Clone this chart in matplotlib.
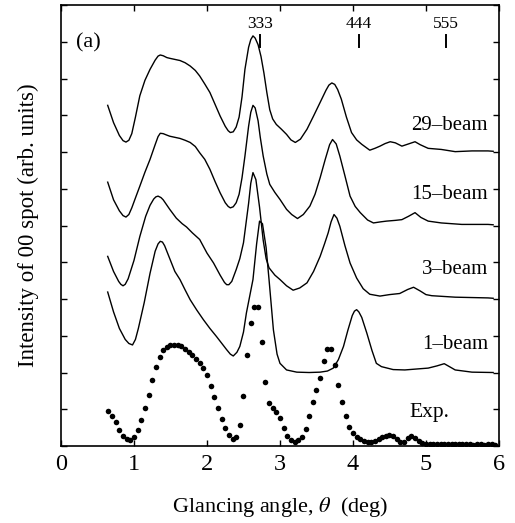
import matplotlib
matplotlib.use("Agg")
import matplotlib.pyplot as plt

plt.rcParams['font.family'] = ['Liberation Serif', 'DejaVu Serif']
plt.rcParams['mathtext.fontset'] = 'stix'

# experimental rocking curve (dots)
exp_theta = [0.65, 0.70, 0.75, 0.80, 0.85, 0.90, 0.95, 1.00, 1.05, 1.10,
             1.15, 1.20, 1.25, 1.30, 1.35, 1.40, 1.45, 1.50, 1.55, 1.60,
             1.65, 1.70, 1.75, 1.80, 1.85, 1.90, 1.95, 2.00, 2.05, 2.10,
             2.15, 2.20, 2.25, 2.30, 2.35, 2.40, 2.45, 2.50, 2.55, 2.60,
             2.65, 2.70, 2.75, 2.80, 2.85, 2.90, 2.95, 3.00, 3.05, 3.10,
             3.15, 3.20, 3.25, 3.30, 3.35, 3.40, 3.45, 3.50, 3.55, 3.60,
             3.65, 3.70, 3.75, 3.80, 3.85, 3.90, 3.95, 4.00, 4.05, 4.10,
             4.15, 4.20, 4.25, 4.30, 4.35, 4.40, 4.45, 4.50, 4.55, 4.60,
             4.65, 4.70, 4.75, 4.80, 4.85, 4.90, 4.95, 5.00, 5.05, 5.10,
             5.15, 5.20, 5.25, 5.30, 5.35, 5.40, 5.45, 5.50, 5.55, 5.60,
             5.65, 5.70, 5.75, 5.80, 5.85, 5.90, 5.95]
exp_int = [0.94, 0.82, 0.64, 0.44, 0.28, 0.19, 0.16, 0.25, 0.44, 0.71,
           1.03, 1.39, 1.80, 2.14, 2.41, 2.62, 2.69, 2.75, 2.76, 2.75,
           2.71, 2.65, 2.57, 2.48, 2.37, 2.27, 2.12, 1.92, 1.64, 1.33,
           1.03, 0.73, 0.48, 0.29, 0.18, 0.24, 0.57, 1.36, 2.48, 3.35,
           3.78, 3.77, 2.83, 1.74, 1.16, 1.03, 0.93, 0.76, 0.49, 0.28,
           0.16, 0.11, 0.16, 0.25, 0.46, 0.82, 1.21, 1.53, 1.86, 2.30,
           2.64, 2.64, 2.21, 1.66, 1.21, 0.82, 0.53, 0.36, 0.25, 0.18,
           0.13, 0.11, 0.12, 0.15, 0.20, 0.25, 0.28, 0.29, 0.27, 0.20,
           0.12, 0.10, 0.22, 0.27, 0.22, 0.14, 0.08, 0.06, 0.06, 0.05,
           0.05, 0.06, 0.05, 0.05, 0.05, 0.06, 0.05, 0.05, 0.05, 0.05,
           0.04, 0.05, 0.05, 0.04, 0.05, 0.05, 0.04]

# calculated curves (offset vertically as in the figure)
b29_theta = [0.64, 0.72, 0.80, 0.85, 0.89, 0.93, 0.97, 1.02, 1.08, 1.15,
             1.22, 1.29, 1.33, 1.36, 1.40, 1.45, 1.49, 1.56, 1.63, 1.70,
             1.77, 1.84, 1.90, 1.97, 2.04, 2.11, 2.18, 2.25, 2.29, 2.32,
             2.36, 2.40, 2.44, 2.48, 2.52, 2.57, 2.60, 2.63, 2.66, 2.70,
             2.74, 2.78, 2.82, 2.86, 2.90, 2.95, 3.02, 3.09, 3.15, 3.21,
             3.28, 3.37, 3.46, 3.55, 3.63, 3.67, 3.71, 3.75, 3.79, 3.84,
             3.91, 3.98, 4.05, 4.12, 4.23, 4.30, 4.37, 4.44, 4.51, 4.58,
             4.67, 4.76, 4.85, 4.92, 5.03, 5.21, 5.40, 5.63, 5.85, 5.92]
b29_int = [9.27, 8.80, 8.45, 8.31, 8.27, 8.32, 8.50, 8.95, 9.53, 9.95,
           10.25, 10.50, 10.61, 10.64, 10.62, 10.57, 10.55, 10.52, 10.49, 10.43,
           10.34, 10.22, 10.07, 9.85, 9.62, 9.30, 8.98, 8.70, 8.58, 8.53,
           8.55, 8.68, 8.95, 9.50, 10.25, 10.85, 11.06, 11.16, 11.10, 10.92,
           10.60, 10.15, 9.62, 9.15, 8.90, 8.75, 8.62, 8.48, 8.33, 8.26,
           8.35, 8.62, 8.98, 9.35, 9.68, 9.82, 9.88, 9.84, 9.70, 9.44,
           8.95, 8.53, 8.33, 8.21, 8.05, 8.10, 8.16, 8.23, 8.28, 8.25,
           8.16, 8.22, 8.28, 8.20, 8.10, 8.07, 8.01, 8.03, 8.03, 8.02]

b15_theta = [0.64, 0.72, 0.80, 0.85, 0.89, 0.93, 0.97, 1.02, 1.08, 1.15,
             1.22, 1.29, 1.33, 1.36, 1.40, 1.45, 1.49, 1.56, 1.63, 1.70,
             1.77, 1.84, 1.90, 1.97, 2.04, 2.11, 2.18, 2.25, 2.29, 2.32,
             2.36, 2.40, 2.44, 2.48, 2.52, 2.57, 2.60, 2.63, 2.66, 2.70,
             2.73, 2.77, 2.82, 2.86, 2.93, 3.00, 3.09, 3.16, 3.24, 3.32,
             3.41, 3.48, 3.55, 3.62, 3.68, 3.72, 3.77, 3.82, 3.89, 3.96,
             4.03, 4.10, 4.20, 4.28, 4.38, 4.46, 4.58, 4.67, 4.76, 4.85,
             4.93, 5.03, 5.21, 5.49, 5.85, 5.92]
b15_int = [7.18, 6.70, 6.40, 6.27, 6.23, 6.30, 6.48, 6.75, 7.07, 7.45,
           7.80, 8.20, 8.42, 8.51, 8.50, 8.46, 8.43, 8.40, 8.37, 8.32,
           8.26, 8.15, 7.98, 7.80, 7.53, 7.20, 6.89, 6.62, 6.52, 6.48,
           6.51, 6.62, 6.85, 7.30, 7.89, 8.70, 9.08, 9.27, 9.20, 8.85,
           8.40, 7.89, 7.40, 7.12, 6.90, 6.71, 6.44, 6.30, 6.19, 6.30,
           6.53, 6.85, 7.30, 7.80, 8.20, 8.34, 8.22, 7.89, 7.35, 6.80,
           6.52, 6.35, 6.15, 6.07, 6.10, 6.12, 6.14, 6.16, 6.25, 6.35,
           6.22, 6.12, 6.07, 6.03, 6.03, 6.02]

b3_theta = [0.64, 0.72, 0.79, 0.82, 0.85, 0.88, 0.92, 1.00, 1.08, 1.16,
            1.22, 1.27, 1.30, 1.33, 1.37, 1.40, 1.49, 1.58, 1.66, 1.72,
            1.80, 1.90, 2.00, 2.09, 2.18, 2.24, 2.27, 2.30, 2.34, 2.40,
            2.45, 2.50, 2.57, 2.60, 2.63, 2.67, 2.72, 2.77, 2.81, 2.85,
            2.93, 3.00, 3.09, 3.18, 3.27, 3.37, 3.46, 3.55, 3.61, 3.66,
            3.70, 3.74, 3.78, 3.82, 3.89, 3.96, 4.05, 4.14, 4.23, 4.37,
            4.50, 4.64, 4.75, 4.83, 4.92, 5.00, 5.08, 5.40, 5.85, 5.92]
b3_int = [5.16, 4.75, 4.48, 4.40, 4.36, 4.40, 4.55, 5.05, 5.70, 6.25,
          6.55, 6.72, 6.78, 6.80, 6.76, 6.70, 6.44, 6.20, 6.05, 5.96,
          5.80, 5.62, 5.25, 4.98, 4.65, 4.45, 4.39, 4.39, 4.48, 4.80,
          5.10, 5.53, 6.60, 7.15, 7.44, 7.25, 6.50, 5.60, 5.10, 4.85,
          4.65, 4.53, 4.36, 4.24, 4.30, 4.44, 4.75, 5.16, 5.50, 5.80,
          6.10, 6.30, 6.20, 5.98, 5.45, 4.98, 4.57, 4.28, 4.13, 4.08,
          4.12, 4.15, 4.26, 4.32, 4.22, 4.12, 4.09, 4.05, 4.03, 4.02]

b1_theta = [0.64, 0.72, 0.80, 0.88, 0.93, 0.98, 1.02, 1.06, 1.14, 1.22,
            1.29, 1.33, 1.36, 1.39, 1.42, 1.50, 1.56, 1.63, 1.70, 1.77,
            1.86, 1.95, 2.04, 2.13, 2.20, 2.27, 2.32, 2.36, 2.41, 2.45,
            2.50, 2.54, 2.63, 2.68, 2.72, 2.76, 2.81, 2.85, 2.91, 2.96,
            3.00, 3.09, 3.23, 3.40, 3.55, 3.65, 3.73, 3.80, 3.87, 3.93,
            3.99, 4.02, 4.05, 4.08, 4.12, 4.19, 4.26, 4.32, 4.39, 4.55,
            4.71, 4.90, 5.03, 5.15, 5.25, 5.33, 5.40, 5.63, 5.92]
b1_int = [4.19, 3.65, 3.20, 2.90, 2.79, 2.75, 2.90, 3.20, 3.90, 4.70,
          5.30, 5.50, 5.57, 5.55, 5.45, 5.05, 4.75, 4.53, 4.25, 3.98,
          3.70, 3.44, 3.20, 2.98, 2.80, 2.62, 2.50, 2.45, 2.55, 2.71,
          3.10, 3.62, 4.53, 5.50, 6.12, 6.05, 5.40, 4.53, 3.16, 2.50,
          2.25, 2.07, 2.01, 2.00, 2.01, 2.04, 2.12, 2.35, 2.71, 3.15,
          3.55, 3.67, 3.71, 3.65, 3.50, 3.07, 2.60, 2.25, 2.16, 2.08,
          2.07, 2.10, 2.12, 2.18, 2.24, 2.15, 2.07, 2.01, 2.00]

curve_labels = ['29\u2013beam', '15\u2013beam', '3\u2013beam', '1\u2013beam']
label_y = [8.73, 6.85, 4.80, 2.75]

bragg_names = ['333', '444', '555']
bragg_theta = [2.73, 4.08, 5.27]

fig = plt.figure(figsize=(5.15, 5.23), dpi=100)
ax = fig.add_axes([0.1184, 0.1472, 0.8505, 0.8432])

for th, inten in [(b29_theta, b29_int), (b15_theta, b15_int),
                  (b3_theta, b3_int), (b1_theta, b1_int)]:
    ax.plot(th, inten, color='black', lw=1.0)
ax.plot(exp_theta, exp_int, 'o', color='black', ms=4.0, mec='none')

for name, yy in zip(curve_labels, label_y):
    ax.text(5.85, yy, name, ha='right', va='center', fontsize=15)
ax.text(4.77, 0.90, 'Exp.', ha='left', va='center', fontsize=15.5)

for name, th in zip(bragg_names, bragg_theta):
    ax.plot([th, th], [10.85, 11.18], color='black', lw=1.4)
    ax.text(th, 11.47, name, ha='center', va='center', fontsize=12.5)

ax.text(0.2, 10.98, '(a)', ha='left', va='center', fontsize=16)

ax.set_xlim(0, 6)
ax.set_ylim(0, 12)
ax.set_xticks(range(0, 7))
ax.set_yticks(range(0, 13))
ax.set_yticklabels([])
ax.tick_params(direction='in', top=True, right=True, length=4, width=1.0,
               labelsize=17.5, pad=6)
for sp in ax.spines.values():
    sp.set_linewidth(1.2)

ax.set_xlabel(r'Glancing angle, $\theta$  (deg)', fontsize=16, labelpad=14)
ax.set_ylabel('Intensity of 00 spot (arb. units)', fontsize=16.5, labelpad=10)

fig.savefig('out.png', dpi=100)
